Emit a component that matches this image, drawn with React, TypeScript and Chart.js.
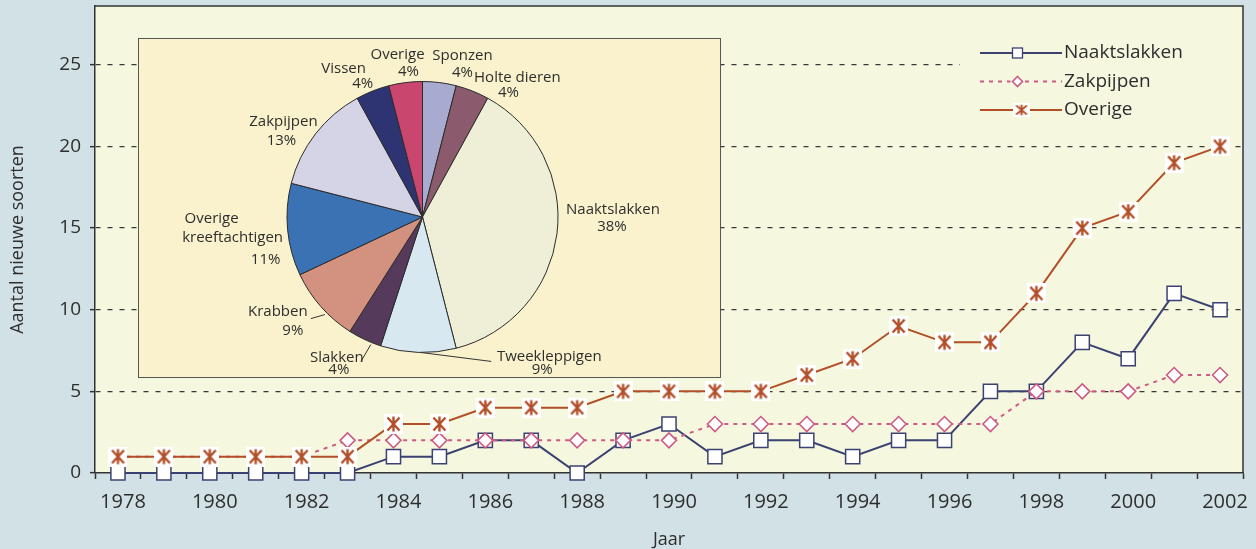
import React, { useEffect, useRef } from 'react';
import { Chart, registerables } from 'chart.js';

Chart.register(...registerables);

// ---------- DATA ----------
const years = ['1978','1979','1980','1981','1982','1983','1984','1985','1986','1987','1988','1989','1990','1991','1992','1993','1994','1995','1996','1997','1998','1999','2000','2001','2002'];
const naaktslakken = [0,0,0,0,0,0,1,1,2,2,0,2,3,1,2,2,1,2,2,5,5,8,7,11,10];
const zakpijpen = [1,1,1,1,1,2,2,2,2,2,2,2,2,3,3,3,3,3,3,3,5,5,5,6,6];
const overige = [1,1,1,1,1,1,3,3,4,4,4,5,5,5,5,6,7,9,8,8,11,15,16,19,20];
const seriesNames = ['Naaktslakken', 'Zakpijpen', 'Overige'];
const yTicks = [0, 5, 10, 15, 20, 25];

const pieLabels = ['Sponzen','Holte dieren','Naaktslakken','Tweekleppigen','Slakken','Krabben','Overige kreeftachtigen','Zakpijpen','Vissen','Overige'];
const piePercent = [4,4,38,9,4,9,11,13,4,4];

// ---------- STYLE ----------
const FONT = '"Open Sans", "DejaVu Sans", sans-serif';
const TEXT = '#2e2e2e';
const OUTER_BG = '#d2e1e5';
const PLOT_BG = '#f5f7df';
const INSET_BG = '#f9f2cd';
const AXIS = '#333333';
const C_NAAKT = '#3b4272';
const C_ZAK = '#cc5a85';
const C_OVER = '#b24f28';
const pieColors = ['#a8aad0','#8b5a6d','#efefd7','#d8e8f0','#553a5c','#d3917f','#3a72b4','#d5d4e7','#2e3472','#c9466f'];

// label layout for pie: offsets (px) of each text line from the arc's outer mid-point; optional leader line
const pieLabelLayout = [
  { split: false, lines: [[23,-27],[23,-10]] },
  { split: false, lines: [[45,-13],[36,2]] },
  { split: false, lines: [[56,-24],[55,-7]] },
  { split: false, lines: [[131,4],[124,17]], leader: [2,0,73,9] },
  { split: false, lines: [[-28,18],[-26,30]], leader: [6,5,-4,22] },
  { split: false, lines: [[-43,5],[-28,24]], leader: [-10,12,4,8] },
  { split: true, lines: [[-76,-11],[-55,8],[-22,30]] },
  { split: false, lines: [[-32,-12],[-34,7]] },
  { split: false, lines: [[-29,-22],[-10,-7]] },
  { split: false, lines: [[-8,-28],[3,-11]] },
];

function makeStarMarker(color: string, scale = 1): HTMLCanvasElement {
  const w = Math.round(19 * scale), h = Math.round(20 * scale);
  const c = document.createElement('canvas');
  c.width = w; c.height = h;
  const g = c.getContext('2d')!;
  g.fillStyle = '#ffffff';
  g.fillRect(0, 0, w, h);
  g.strokeStyle = color;
  g.lineWidth = 2.4 * scale;
  g.beginPath();
  const m = 3.5 * scale;
  g.moveTo(m, m); g.lineTo(w - m, h - m);
  g.moveTo(w - m, m); g.lineTo(m, h - m);
  g.moveTo(w / 2, 2.5 * scale); g.lineTo(w / 2, h - 2.5 * scale);
  g.stroke();
  return c;
}

const plotBgPlugin = {
  id: 'plotBg',
  beforeDraw(chart: any) {
    const { ctx, chartArea: a } = chart;
    ctx.save();
    ctx.fillStyle = PLOT_BG;
    ctx.fillRect(a.left, a.top, a.right - a.left, a.bottom - a.top);
    ctx.restore();
  },
};

const framePlugin = {
  id: 'frame',
  afterDraw(chart: any) {
    const { ctx, chartArea: a } = chart;
    ctx.save();
    ctx.strokeStyle = AXIS;
    ctx.lineWidth = 1.5;
    ctx.beginPath();
    ctx.moveTo(a.left, a.top);
    ctx.lineTo(a.right, a.top);
    ctx.lineTo(a.right, a.bottom);
    ctx.stroke();
    ctx.restore();
  },
};

const legendPlugin = {
  id: 'customLegend',
  afterDraw(chart: any) {
    const { ctx, chartArea: a } = chart;
    ctx.save();
    ctx.fillStyle = PLOT_BG;
    ctx.fillRect(a.right - 283, a.top + 24, 282, 98);
    const x0 = a.right - 263, x1 = a.right - 181, mx = a.right - 225.5;
    chart.data.datasets.forEach((ds: any, i: number) => {
      const y = a.top + 47 + i * 28.5;
      ctx.strokeStyle = ds.borderColor;
      ctx.lineWidth = 2;
      ctx.setLineDash(ds.borderDash || []);
      ctx.beginPath();
      ctx.moveTo(x0, y); ctx.lineTo(x1, y);
      ctx.stroke();
      ctx.setLineDash([]);
      if (ds.pointStyle === 'rect') {
        ctx.fillStyle = '#fff';
        ctx.fillRect(mx - 5, y - 5, 10, 10);
        ctx.lineWidth = 1.3;
        ctx.strokeRect(mx - 5, y - 5, 10, 10);
      } else if (ds.pointStyle === 'rectRot') {
        ctx.fillStyle = PLOT_BG;
        ctx.fillRect(mx - 7, y - 6, 14, 12);
        ctx.beginPath();
        ctx.moveTo(mx, y - 5); ctx.lineTo(mx + 5, y); ctx.lineTo(mx, y + 5); ctx.lineTo(mx - 5, y); ctx.closePath();
        ctx.fillStyle = '#fff';
        ctx.fill();
        ctx.lineWidth = 1.6;
        ctx.stroke();
      } else {
        const img = makeStarMarker(ds.borderColor, 0.7);
        ctx.drawImage(img, mx - img.width / 2 + 2, y - img.height / 2, img.width + 4, img.height);
      }
      ctx.fillStyle = TEXT;
      ctx.font = `19px ${FONT}`;
      ctx.textAlign = 'left';
      ctx.textBaseline = 'middle';
      ctx.fillText(ds.label, x1 + 2, y);
    });
    ctx.restore();
  },
};

const pieLabelPlugin = {
  id: 'pieLabels',
  afterDatasetsDraw(chart: any) {
    const { ctx } = chart;
    const meta = chart.getDatasetMeta(0);
    ctx.save();
    ctx.font = `15px ${FONT}`;
    ctx.fillStyle = TEXT;
    ctx.strokeStyle = '#333';
    ctx.lineWidth = 1;
    ctx.textAlign = 'center';
    ctx.textBaseline = 'middle';
    meta.data.forEach((arc: any, i: number) => {
      const p = arc.getProps(['x', 'y', 'startAngle', 'endAngle', 'outerRadius'], true);
      const mid = (p.startAngle + p.endAngle) / 2;
      const ax = p.x + Math.cos(mid) * p.outerRadius;
      const ay = p.y + Math.sin(mid) * p.outerRadius;
      const lay = pieLabelLayout[i];
      const name = pieLabels[i];
      const texts = [...(lay.split ? name.split(' ') : [name]), `${piePercent[i]}%`];
      if (lay.leader) {
        const l = lay.leader;
        ctx.beginPath();
        ctx.moveTo(ax + l[0], ay + l[1]);
        ctx.lineTo(ax + l[2], ay + l[3]);
        ctx.stroke();
      }
      texts.forEach((t, j) => {
        const o = lay.lines[j];
        ctx.fillText(t, ax + o[0], ay + o[1]);
      });
    });
    ctx.restore();
  },
};

export default function App() {
  const mainRef = useRef<HTMLCanvasElement>(null);
  const pieRef = useRef<HTMLCanvasElement>(null);

  useEffect(() => {
    Chart.defaults.font.family = FONT;
    const star = makeStarMarker(C_OVER);
    const main = new Chart(mainRef.current!, {
      type: 'line',
      data: {
        labels: years,
        datasets: [
          {
            label: seriesNames[0], data: naaktslakken, borderColor: C_NAAKT, borderWidth: 2,
            pointStyle: 'rect', pointRadius: 10, pointBorderWidth: 1.5, pointBorderColor: C_NAAKT,
            pointBackgroundColor: '#ffffff', backgroundColor: '#ffffff', order: 2, clip: false, tension: 0,
          },
          {
            label: seriesNames[1], data: zakpijpen, borderColor: C_ZAK, borderWidth: 2, borderDash: [4, 5],
            pointStyle: 'rectRot', pointRadius: 7.5, pointBorderWidth: 1.6, pointBorderColor: C_ZAK,
            pointBackgroundColor: '#ffffff', backgroundColor: '#ffffff', order: 1, clip: false, tension: 0,
          },
          {
            label: seriesNames[2], data: overige, borderColor: C_OVER, borderWidth: 2,
            pointStyle: star as any, pointRadius: 9, order: 0, clip: false, tension: 0,
          },
        ] as any,
      },
      options: {
        responsive: false,
        animation: false,
        devicePixelRatio: 1,
        layout: { autoPadding: false, padding: { top: 6, right: 13, left: 0, bottom: 0 } },
        plugins: { legend: { display: false }, tooltip: { enabled: false } },
        scales: {
          x: {
            type: 'category',
            offset: true,
            grid: { offset: true, drawOnChartArea: false, drawTicks: true, tickLength: 6, tickColor: AXIS, tickWidth: 1.5 },
            border: { color: AXIS, width: 1.5 },
            ticks: {
              autoSkip: false, maxRotation: 0, minRotation: 0, padding: 11, color: TEXT, labelOffset: 5,
              font: { family: FONT, size: 20 },
              callback: (_v: any, i: number) => (i % 2 === 0 ? years[i] : ''),
            },
            title: { display: true, text: 'Jaar', color: TEXT, font: { family: FONT, size: 18, lineHeight: 1 }, padding: { top: 0, bottom: 0 } },
            afterFit: (s: any) => { s.height = 76; s.paddingLeft = 0; s.paddingRight = 0; },
          },
          y: {
            min: 0, max: 28.6,
            afterBuildTicks: (s: any) => { s.ticks = yTicks.map((v) => ({ value: v })); },
            ticks: { stepSize: 5, includeBounds: false, padding: 9, color: TEXT, font: { family: FONT, size: 19 } },
            grid: {
              color: (c: any) => (c.tick && c.tick.value === 0 ? 'rgba(0,0,0,0)' : '#3a3a3a'),
              lineWidth: 1.3, tickLength: 5, tickColor: AXIS, tickWidth: 1.5,
            },
            border: { color: AXIS, width: 1.5, dash: [5, 7] },
            title: { display: true, text: 'Aantal nieuwe soorten', color: TEXT, font: { family: FONT, size: 18, lineHeight: 1.2 }, padding: { top: 7, bottom: 0 } },
            afterFit: (s: any) => { s.width = 95; s.paddingTop = 0; s.paddingBottom = 0; },
          },
        },
      } as any,
      plugins: [plotBgPlugin, framePlugin, legendPlugin],
    });

    const pie = new Chart(pieRef.current!, {
      type: 'pie',
      data: {
        labels: pieLabels,
        datasets: [{ data: piePercent, backgroundColor: pieColors, borderColor: '#2b2b2b', borderWidth: 1 }],
      },
      options: {
        responsive: false,
        animation: false,
        devicePixelRatio: 1,
        layout: { padding: { left: 147.5, top: 41.5, right: 160.5, bottom: 22.5 } },
        plugins: { legend: { display: false }, tooltip: { enabled: false } },
      } as any,
      plugins: [pieLabelPlugin],
    });

    return () => { main.destroy(); pie.destroy(); };
  }, []);

  return (
    <div style={{ position: 'absolute', left: 0, top: 0, width: 1256, height: 549, background: OUTER_BG, overflow: 'hidden' }}>
      <canvas ref={mainRef} width={1256} height={549} style={{ position: 'absolute', left: 0, top: 0 }} />
      <div
        style={{
          position: 'absolute', left: 138, top: 38, width: 583, height: 340, boxSizing: 'border-box',
          border: '1.5px solid #555', background: INSET_BG,
        }}
      >
        <canvas ref={pieRef} width={580} height={337} style={{ position: 'absolute', left: 0, top: 0 }} />
      </div>
    </div>
  );
}
